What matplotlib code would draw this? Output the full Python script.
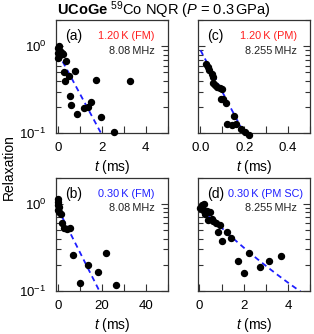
import numpy as np
import matplotlib
matplotlib.use("Agg")
import matplotlib.pyplot as plt
from matplotlib.ticker import MultipleLocator, LogLocator, NullFormatter

plt.rcParams['font.family'] = ['Liberation Sans', 'DejaVu Sans']
plt.rcParams['mathtext.fontset'] = 'custom'
plt.rcParams['mathtext.rm'] = 'Liberation Sans'
plt.rcParams['mathtext.it'] = 'Liberation Sans:italic'
plt.rcParams['mathtext.bf'] = 'Liberation Sans:bold'

# (a) 1.20 K FM, 8.08 MHz
a_t = [0.05, 0.0, 0.08, 0.0, 0.16, 0.05, 0.23, 0.0, 0.35, 0.28, 0.77, 0.31,
       0.51, 0.54, 0.59, 0.88, 1.72, 3.26, 1.2, 1.34, 1.49, 1.97, 2.53]
a_y = [1.0, 0.95, 0.88, 0.84, 0.84, 0.78, 0.81, 0.73, 0.68, 0.51, 0.52, 0.40,
       0.45, 0.27, 0.21, 0.168, 0.41, 0.40, 0.197, 0.20, 0.227, 0.153, 0.104]
# (b) 0.30 K FM, 8.08 MHz
b_t = [0.05, 0.1, 0.05, 0.2, 0.05, 0.5, 1.1, 1.6, 2.6, 3.9, 5.4, 6.6,
       13.8, 10.0, 18.2, 21.8, 26.4]
b_y = [1.14, 1.05, 0.98, 0.92, 0.86, 0.80, 0.77, 0.60, 0.53, 0.51, 0.53, 0.26,
       0.20, 0.125, 0.167, 0.27, 0.116]
# (c) 1.20 K PM, 8.255 MHz
c_t = [0.026, 0.035, 0.041, 0.051, 0.057, 0.057, 0.066, 0.077, 0.088, 0.100,
       0.092, 0.103, 0.118, 0.154, 0.123, 0.143, 0.161, 0.184, 0.204, 0.223]
c_y = [0.625, 0.57, 0.54, 0.48, 0.44, 0.375, 0.36, 0.34, 0.33, 0.32,
       0.25, 0.246, 0.225, 0.158, 0.128, 0.125, 0.128, 0.111, 0.104, 0.095]
# (d) 0.30 K PM SC, 8.255 MHz
d_t = [0.1, 0.22, 0.02, 0.17, 0.33, 0.25, 0.48, 0.4, 0.63, 0.74, 0.56, 0.94,
       0.86, 1.24, 1.01, 1.44, 1.73, 2.26, 2.0, 2.72, 3.14, 3.68]
d_y = [0.98, 1.0, 0.895, 0.86, 0.84, 0.77, 0.80, 0.65, 0.64, 0.61, 0.67, 0.575,
       0.48, 0.48, 0.38, 0.41, 0.22, 0.27, 0.16, 0.19, 0.22, 0.25]

# fit curves: a1*exp(-k1 t) + a2*exp(-k2 t)
fit_a = (0.83, 1.08, 0.0, 0.0)
fit_b = (0.87, 0.115, 0.0, 0.0)
fit_c = (0.90, 11.05, 0.0, 0.0)
fit_d = (0.58, 0.75, 0.36, 0.33)

RED = '#ff1e1e'
BLUE = '#1e1eff'

fig = plt.figure(figsize=(3.14, 3.34), dpi=100)

W = 111.7 / 314
H = 113.3 / 334
pos = {
    'a': [56 / 314, (334 - 133.3) / 334, W, H],
    'c': [198.3 / 314, (334 - 133.3) / 334, W, H],
    'b': [56 / 314, (334 - 291) / 334, W, H],
    'd': [198.3 / 314, (334 - 291) / 334, W, H],
}


def panel(key, t, y, fit, xlim, major, minor, temp, tcolor, freq, temp_x=0.885, ylabels=True):
    ax = fig.add_axes(pos[key])
    ax.set_yscale('log')
    ax.set_ylim(0.1, 2.0)
    ax.set_xlim(*xlim)
    tt = np.linspace(0, xlim[1], 300)
    a1, k1, a2, k2 = fit
    ax.plot(tt, a1 * np.exp(-k1 * tt) + a2 * np.exp(-k2 * tt), '--',
            color=BLUE, lw=1.3, dashes=(3, 2.2), zorder=2)
    ax.plot(t, y, 'o', color='black', ms=4.3, zorder=3, clip_on=False)
    ax.xaxis.set_major_locator(MultipleLocator(major))
    ax.xaxis.set_minor_locator(MultipleLocator(minor))
    ax.yaxis.set_major_locator(LogLocator(base=10, numticks=5))
    ax.yaxis.set_minor_locator(LogLocator(base=10, subs=np.arange(2, 10), numticks=10))
    ax.yaxis.set_minor_formatter(NullFormatter())
    ax.tick_params(which='both', direction='in', right=True, top=False,
                   labelsize=9.5, width=0.8, color='#333333')
    ax.tick_params(which='major', length=5)
    ax.tick_params(which='minor', length=3.5)
    ax.tick_params(axis='x', which='minor', length=5)
    ax.tick_params(axis='x', pad=6.5)
    ax.tick_params(axis='y', pad=7, labelleft=ylabels)
    for s in ax.spines.values():
        s.set_linewidth(0.9)
        s.set_color('#333333')
    ax.set_xlabel(r'$t$ (ms)', fontsize=10, labelpad=2.5)
    ax.text(0.08, 0.86, '(' + key + ')', transform=ax.transAxes,
            fontsize=10, va='center', ha='left')
    ax.text(temp_x, 0.86, temp, transform=ax.transAxes, fontsize=7.8,
            va='center', ha='right', color=tcolor)
    ax.text(0.885, 0.73, freq, transform=ax.transAxes, fontsize=7.8,
            va='center', ha='right', color='#222222')
    return ax


ax_a = panel('a', a_t, a_y, fit_a, (-0.1, 5.0), 2, 1,
             '1.20\u2009K (FM)', RED, '8.08\u2009MHz')
ax_c = panel('c', c_t, c_y, fit_c, (-0.01, 0.5), 0.2, 0.1,
             '1.20\u2009K (PM)', RED, '8.255\u2009MHz', ylabels=False)
ax_b = panel('b', b_t, b_y, fit_b, (-1.0, 50), 20, 10,
             '0.30\u2009K (FM)', BLUE, '8.08\u2009MHz')
ax_d = panel('d', d_t, d_y, fit_d, (-0.05, 5.0), 2, 1,
             '0.30\u2009K (PM SC)', BLUE, '8.255\u2009MHz', temp_x=0.94, ylabels=False)

fig.text(0.523, 0.97, r'$\mathbf{UCoGe}$ $^{59}$Co NQR ($P$ = 0.3$\,$GPa)',
         ha='center', va='center', fontsize=10.5)
fig.text(0.029, 0.5, 'Relaxation', rotation=90, ha='center', va='center',
         fontsize=10)

fig.savefig('out.png', dpi=100)
